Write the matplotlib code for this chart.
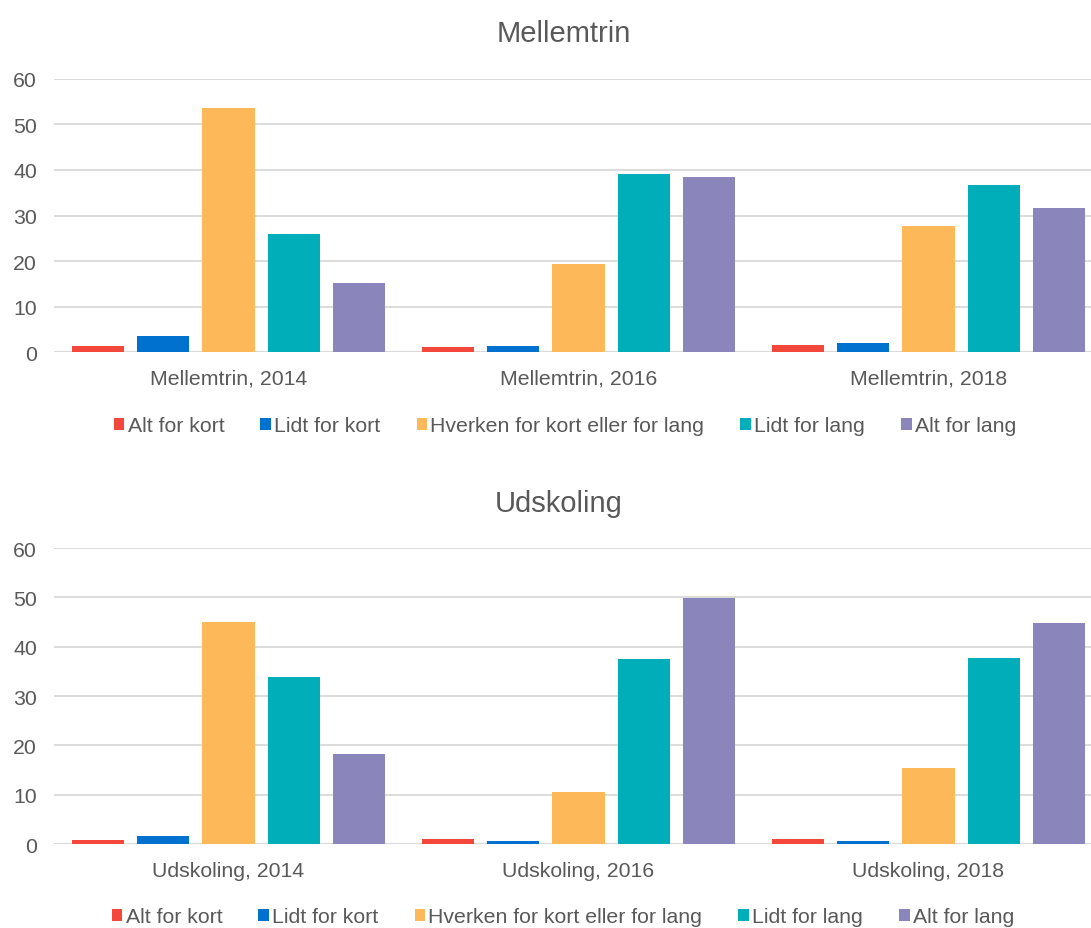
import numpy as np
import matplotlib
matplotlib.use("Agg")
import matplotlib.pyplot as plt
from matplotlib.patches import Patch

plt.rcParams['font.family'] = ['Liberation Sans', 'DejaVu Sans']

# series names and colours
series_names = ["Alt for kort", "Lidt for kort", "Hverken for kort eller for lang", "Lidt for lang", "Alt for lang"]
series_colors = ["#F4473C", "#0071CE", "#FDB959", "#00AEBA", "#8A85BA"]

# Mellemtrin data
mellem_labels = ["Mellemtrin, 2014", "Mellemtrin, 2016", "Mellemtrin, 2018"]
mellem_alt_kort = [1.4, 1.1, 1.5]
mellem_lidt_kort = [3.6, 1.3, 2.0]
mellem_hverken = [53.6, 19.3, 27.7]
mellem_lidt_lang = [25.9, 39.1, 36.7]
mellem_alt_lang = [15.1, 38.5, 31.6]

# Udskoling data
udsk_labels = ["Udskoling, 2014", "Udskoling, 2016", "Udskoling, 2018"]
udsk_alt_kort = [0.8, 1.1, 0.95]
udsk_lidt_kort = [1.6, 0.55, 0.6]
udsk_hverken = [45.0, 10.5, 15.4]
udsk_lidt_lang = [33.9, 37.5, 37.7]
udsk_alt_lang = [18.3, 49.9, 44.8]

text_color = '#595959'
grid_color = '#D9D9D9'

fig = plt.figure(figsize=(10.91, 9.29), dpi=100)

# plot area runs past the right edge of the picture (as in the reference)
ax_top = fig.add_axes([53.5 / 1091, 0.6200, 1050 / 1091, 0.2939])
ax_bot = fig.add_axes([53.5 / 1091, 0.0904, 1050 / 1091, 0.3186])


def draw_panel(ax, title, labels, series, title_x):
    ind = np.arange(len(labels))
    pitch = 0.186
    width = 0.149
    for k, values in enumerate(series):
        ax.bar(ind + (k - 2) * pitch, values, width, color=series_colors[k], zorder=3)
    ax.set_xlim(-0.5, len(labels) - 0.5)
    ax.set_ylim(0, 60)
    ax.set_yticks(np.arange(0, 61, 10))
    ax.set_xticks(ind)
    ax.set_xticklabels(labels)
    ax.yaxis.grid(True, color=grid_color, linewidth=1.3, zorder=0)
    for s in ax.spines.values():
        s.set_visible(False)
    ax.axhline(0, color=grid_color, linewidth=1.5, zorder=2)
    ax.tick_params(axis='both', length=0, labelsize=15.3, labelcolor=text_color)
    ax.tick_params(axis='y', pad=12)
    ax.tick_params(axis='x', pad=12)
    # title is centred on the chart area, not the plot area
    ax.set_title(title, fontsize=21, color=text_color, pad=27,
                 x=(title_x - 53.5) / 1050)


draw_panel(ax_top, "Mellemtrin", mellem_labels,
           [mellem_alt_kort, mellem_lidt_kort, mellem_hverken, mellem_lidt_lang, mellem_alt_lang], 563.5)
draw_panel(ax_bot, "Udskoling", udsk_labels,
           [udsk_alt_kort, udsk_lidt_kort, udsk_hverken, udsk_lidt_lang, udsk_alt_lang], 558.5)

handles = [Patch(facecolor=c, edgecolor='none') for c in series_colors]
for yc, xc in [(1 - 427 / 929, 565 / 1091), (1 - 918 / 929, 563 / 1091)]:
    leg = fig.legend(handles, series_names, loc='center', bbox_to_anchor=(xc, yc), ncol=5,
                     frameon=False, fontsize=15.3, handlelength=0.5, handleheight=0.5,
                     handletextpad=0.15, columnspacing=1.7, borderaxespad=0, borderpad=0)
    for t in leg.get_texts():
        t.set_color(text_color)

plt.savefig("out.png", dpi=100)
